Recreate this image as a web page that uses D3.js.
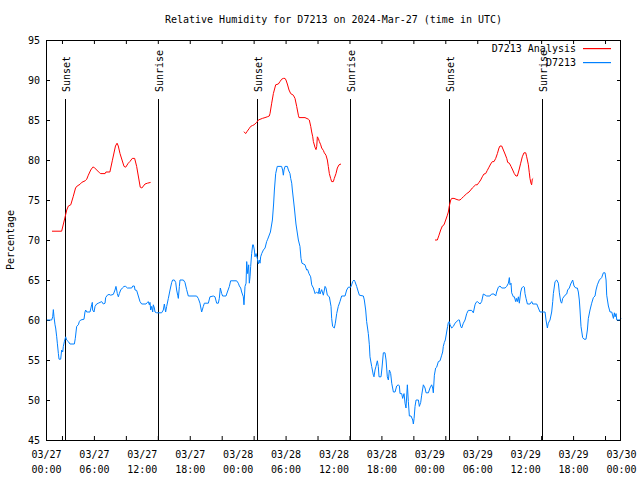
<!DOCTYPE html>
<html><head><meta charset="utf-8">
<script src="https://cdn.jsdelivr.net/npm/d3@7"></script>
<style>
html,body{margin:0;padding:0;background:#fff;}
svg text{font-family:"DejaVu Sans Mono",monospace;font-size:10px;fill:#000;}
</style></head>
<body><svg id="c" width="640" height="480"></svg>
<script>
// ---- data (hours since 2024-03-27 00:00 UTC, value %) ----
const titleText = "Relative Humidity for D7213 on 2024-Mar-27 (time in UTC)";
const yLabel = "Percentage";
const seriesNames = ["D7213 Analysis", "D7213"];
const seriesColors = ["#ff0000", "#0080ff"];
const yTicks = [45,50,55,60,65,70,75,80,85,90,95];
const xLabelHours = [0,6,12,18,24,30,36,42,48,54,60,66,72];
const sunHours = [2.42,14.05,26.43,38.1,50.47,62.1];
const sunNames = ["Sunset","Sunrise","Sunset","Sunrise","Sunset","Sunrise"];

const analysisSeg1 = [[0.75,71.1],[1.96,71.1],[2.3,72.5],[2.6,73.75],[2.8,74.25],[3.1,74.4],[3.4,75.4],[3.7,76.5],[3.9,76.75],[4.26,76.96],[4.47,77.2],[4.9,77.4],[5.1,77.6],[5.3,78.1],[5.6,78.75],[5.85,79.1],[6.0,79.1],[6.7,78.4],[6.85,78.3],[7.4,78.3],[7.5,78.5],[8.0,78.5],[8.3,79.9],[8.7,81.75],[8.9,82.1],[9.05,81.75],[9.27,80.8],[9.77,79.2],[9.98,79.1],[10.3,79.6],[10.5,79.8],[10.8,80.2],[11.1,80.2],[11.35,79.2],[11.8,76.6],[12.0,76.5],[12.4,77],[12.7,77.1],[13.1,77.2]];
const analysisSeg2 = [[24.79,83.54],[25.0,83.3],[25.2,83.6],[25.42,83.9],[25.63,84.2],[25.84,84.3],[26.05,84.4],[26.38,84.7],[26.59,85.0],[27.09,85.2],[27.42,85.3],[27.71,85.4],[27.96,85.5],[28.05,85.8],[28.26,87.1],[28.47,88.3],[28.76,89.4],[29.09,89.5],[29.3,89.8],[29.51,90.1],[29.72,90.2],[29.93,90.2],[30.05,90.0],[30.22,89.5],[30.43,88.75],[30.64,88.3],[30.97,88.1],[31.18,87.7],[31.39,86.7],[31.6,85.6],[31.68,85.3],[32.43,85.3],[32.85,85.1],[32.97,85.0],[33.15,84.2],[33.27,83.5],[33.4,82.9],[33.48,82.3],[33.68,81.6],[33.81,81.3],[33.9,81.7],[33.98,82.9],[34.1,82.7],[34.23,82.3],[34.4,81.9],[34.52,81.5],[34.73,81.2],[34.85,80.9],[35.06,80.6],[35.23,80.0],[35.35,79.2],[35.48,78.3],[35.64,77.7],[35.77,77.3],[35.98,77.3],[36.1,77.7],[36.31,78.3],[36.48,79.0],[36.69,79.4],[36.94,79.5]];
const analysisSeg3 = [[48.71,70.0],[49.0,70.0],[49.21,70.6],[49.42,71.25],[49.63,71.75],[49.84,71.9],[50.05,72.5],[50.26,73.1],[50.38,73.5],[50.5,74.25],[50.68,75.0],[50.8,75.2],[51.09,75.2],[51.34,75.1],[51.63,75.0],[51.84,75.0],[52.05,75.2],[52.26,75.4],[52.47,75.6],[52.68,75.8],[52.97,76.0],[53.18,76.25],[53.38,76.5],[53.59,76.7],[53.8,76.9],[54.0,76.9],[54.22,77.2],[54.43,77.5],[54.63,77.9],[54.84,78.25],[55.05,78.3],[55.26,78.7],[55.47,79.1],[55.68,79.5],[55.89,79.8],[56.1,79.8],[56.31,80.2],[56.52,80.8],[56.72,81.5],[56.85,81.75],[57.06,81.75],[57.27,81.25],[57.48,80.75],[57.69,80.2],[57.81,79.7],[58.02,79.6],[58.23,79.2],[58.44,78.75],[58.64,78.3],[58.85,78.0],[59.02,78.0],[59.23,78.75],[59.44,79.6],[59.64,80.4],[59.85,80.9],[60.07,80.9],[60.19,80.4],[60.4,79.4],[60.52,78.4],[60.6,77.7],[60.73,77.1],[60.81,76.9],[60.89,77.6],[61.0,77.7]];

const observed = [[0.08,60],[0.71,60],[0.84,60.4],[0.92,61.3],[1.0,60.4],[1.13,59.4],[1.21,59.0],[1.34,57.9],[1.42,57.1],[1.55,55.8],[1.63,55.1],[1.84,55.1],[1.96,56.25],[2.09,56.0],[2.17,56.7],[2.3,57.3],[2.46,57.9],[2.59,57.5],[2.8,57.3],[3.0,57.0],[3.55,57.0],[3.67,57.7],[3.76,58.5],[3.84,59.2],[4.05,59.4],[4.17,59.8],[4.34,60.0],[4.76,60.1],[4.88,61.0],[4.97,61.25],[5.09,61.0],[5.51,61.0],[5.72,61.9],[5.8,62.2],[5.84,61.25],[6.01,61.0],[6.14,61.7],[6.34,62.0],[6.55,62.1],[6.76,62.2],[6.97,62.3],[7.18,62.0],[7.39,62.1],[7.47,62.8],[7.68,63.1],[7.89,63.2],[8.1,63.1],[8.43,63.2],[8.64,63.75],[8.76,64.2],[8.85,63.75],[8.93,63.3],[9.06,62.9],[9.18,63.3],[9.35,63.75],[9.56,64.0],[9.77,64.2],[9.98,64.2],[10.19,64.0],[10.73,64.0],[10.86,64.25],[11.06,64.25],[11.15,63.75],[11.35,63.7],[11.56,63.0],[11.77,62.3],[11.98,62.0],[12.52,62.0],[12.69,62.2],[12.81,62.3],[12.94,61.9],[13.02,62.2],[13.11,61.25],[13.23,61.7],[13.36,61.0],[13.44,61.9],[13.57,61.5],[13.65,61.0],[13.86,60.9],[14.48,60.9],[14.69,61.25],[14.82,62.0],[14.98,61.0],[15.11,61.7],[15.32,62.7],[15.53,63.75],[15.74,64.7],[15.86,65.0],[16.07,65.0],[16.24,64.7],[16.36,63.75],[16.49,63.1],[16.57,62.7],[16.7,64.2],[16.78,65.0],[17.2,65.0],[17.4,64.7],[17.61,63.8],[17.82,63.0],[18.86,63.0],[19.07,62.7],[19.28,62.1],[19.49,61.0],[19.7,61.7],[19.83,62.1],[20.33,62.1],[20.53,62.9],[20.95,63.0],[21.16,62.9],[21.37,62.1],[21.58,62.1],[21.7,62.7],[21.83,64.0],[22.0,63.3],[22.12,63.0],[22.54,63.0],[22.71,63.5],[22.96,64.2],[23.12,64.9],[23.87,64.9],[24.08,64.6],[24.21,64.25],[24.38,64.0],[24.5,63.5],[24.71,62.9],[24.79,61.9],[24.92,64.2],[25.05,64.6],[25.13,67.3],[25.25,65.8],[25.38,66.9],[25.46,64.6],[25.55,65.4],[25.63,66.7],[25.75,68.3],[25.88,69.4],[25.96,69.4],[26.09,68.75],[26.17,67.9],[26.3,68.3],[26.46,67.7],[26.59,67.0],[26.71,67.5],[26.8,67.1],[26.88,67.9],[27.01,68.3],[27.22,68.75],[27.43,69.0],[27.63,69.8],[27.76,70.1],[28.1,71],[28.35,72.5],[28.5,74.5],[28.6,76.25],[28.76,78.3],[28.96,79.2],[29.5,79.2],[29.63,78.75],[29.72,78.1],[29.8,78.75],[29.93,79.2],[30.22,79.2],[30.35,78.75],[30.55,78.3],[30.64,77.7],[30.77,77.1],[30.85,76.25],[31.1,74],[31.3,72],[31.6,70],[31.8,69.2],[31.93,67.7],[32.05,67.1],[32.43,66.9],[32.64,66.25],[32.76,66.3],[32.93,65.8],[33.14,65.4],[33.27,64.4],[33.48,64.0],[33.69,63.3],[33.89,63.5],[34.1,63.3],[34.23,64.0],[34.31,63.25],[34.52,63.8],[34.73,63.1],[34.94,64.2],[35.06,64.0],[35.23,63.1],[35.48,62.9],[35.69,61.7],[35.77,60.2],[35.89,59.2],[36.1,59.0],[36.23,59.6],[36.4,60.8],[36.6,61.7],[36.81,62.3],[37.02,63.0],[37.44,63.0],[37.65,63.75],[37.86,64.1],[38.15,64.1],[38.27,64.4],[38.4,64.8],[38.57,65.0],[38.69,64.8],[38.9,64.2],[39.11,63.5],[39.24,63.1],[39.74,63.0],[39.86,62.5],[40.03,61.25],[40.15,59.8],[40.36,58.3],[40.49,56.9],[40.57,55.4],[40.78,54.2],[40.99,53.1],[41.07,52.9],[41.2,53.75],[41.32,54.2],[41.49,54.9],[41.61,54.2],[41.7,52.9],[41.95,52.9],[42.07,54.0],[42.24,55.9],[42.45,55.9],[42.58,55.0],[42.74,52.9],[42.87,52.5],[43.0,53.75],[43.16,53.3],[43.29,52.1],[43.5,51.0],[43.71,51.0],[43.91,51.75],[44.12,51.9],[44.25,51.75],[44.33,50.8],[44.54,50.8],[44.66,50.2],[44.83,50.8],[44.96,49.6],[45.08,49.0],[45.25,51.9],[45.37,49.8],[45.5,48.0],[45.71,48.0],[45.92,47.5],[46.0,47.0],[46.09,47.7],[46.21,49.2],[46.34,50.0],[46.63,50.0],[46.75,49.2],[46.92,49.7],[47.04,50.6],[47.25,51.9],[47.46,51.5],[47.59,50.9],[47.88,50.9],[48.08,51.5],[48.29,51.9],[48.42,51.5],[48.5,50.9],[48.63,53.1],[48.79,54.0],[48.92,54.1],[49.13,54.8],[49.34,54.9],[49.55,55.6],[49.67,56.0],[49.75,56.7],[49.88,57.2],[50.0,57.5],[50.17,58.5],[50.29,59.2],[50.38,59.7],[50.5,59.8],[50.59,59.4],[50.8,59.0],[51.01,59.2],[51.21,59.6],[51.63,60.0],[51.76,60.0],[51.93,59.2],[52.05,59.0],[52.26,59.6],[52.47,60.0],[52.68,60.8],[52.88,61.2],[53.3,61.2],[53.51,60.9],[53.72,61.9],[53.85,62.2],[54.01,62.3],[54.35,62.0],[54.55,62.3],[54.76,63.25],[55.18,63.0],[55.59,63.0],[55.8,63.25],[56.1,63.25],[56.31,63.0],[56.43,63.5],[56.64,64.1],[56.85,64.25],[57.06,64.0],[57.48,64.0],[57.69,64.2],[57.9,64.6],[58.02,65.3],[58.1,64.4],[58.23,64.6],[58.31,63.4],[58.52,62.9],[58.65,62.9],[58.73,62.6],[58.81,62.3],[58.9,62.7],[59.02,62.3],[59.15,62.9],[59.27,62.1],[59.44,63.5],[59.57,64.0],[59.77,64.2],[59.9,64.1],[59.98,63.3],[60.11,62.7],[60.28,62.0],[60.61,62.0],[60.82,62.3],[60.95,62.0],[61.45,62.0],[61.65,61.5],[61.86,61.0],[62.49,61.0],[62.61,60.0],[62.78,59.0],[62.9,59.6],[63.11,60.0],[63.32,61.0],[63.45,62.3],[63.53,63.3],[63.74,64.8],[63.95,65.0],[64.16,64.6],[64.28,63.4],[64.45,62.3],[64.57,62.1],[64.7,62.7],[64.99,63.1],[65.2,63.25],[65.32,63.75],[65.53,64.0],[65.7,64.5],[65.95,65.0],[66.12,64.25],[66.33,64.0],[66.53,64.0],[66.66,63.5],[66.78,62.5],[66.87,61.25],[66.99,59.2],[67.2,57.8],[67.37,57.6],[67.62,57.6],[67.79,58.75],[67.91,60.2],[68.12,61.25],[68.33,62.1],[68.54,62.8],[68.75,63.0],[68.87,63.75],[69.04,64.4],[69.29,65.0],[69.58,65.3],[69.79,65.9],[70.0,65.9],[70.13,65.0],[70.21,63.1],[70.42,61.75],[70.63,61.0],[70.84,61.0],[71.05,60.2],[71.17,60.9],[71.26,60.4],[71.38,60.8],[71.47,60.0],[71.88,60.0],[72.0,60.2]];

// ---- drawing ----
const t0 = Date.UTC(2024,2,27,0,0,0);
const toDate = h => new Date(t0 + h*3600000);
const svg = d3.select("#c");
const L=46, R=621, T=40, B=440;
const x = d3.scaleUtc().domain([toDate(0), toDate(72)]).range([L,R]);
const y = d3.scaleLinear().domain([45,95]).range([B,T]);

svg.append("rect").attr("width",640).attr("height",480).attr("fill","#fff");

// title
svg.append("text").attr("x",(L+R)/2).attr("y",23).attr("text-anchor","middle").text(titleText);
// y label
svg.append("text").attr("transform","translate(14,240) rotate(-90)").attr("text-anchor","middle").text(yLabel);

const minorHours = d3.range(2,72,4);
const fmt1 = d3.utcFormat("%m/%d"), fmt2 = d3.utcFormat("%H:%M");

function styleAxis(g){ g.select(".domain").remove(); g.selectAll("line").attr("stroke","#000"); g.selectAll("text").attr("font-family",null).attr("font-size",null); }

// bottom/top tick marks (inward)
svg.append("g").attr("transform",`translate(0,${B})`)
  .call(d3.axisBottom(x).tickValues(minorHours.map(toDate)).tickSize(-4).tickFormat(""))
  .call(styleAxis);
svg.append("g").attr("transform",`translate(0,${T})`)
  .call(d3.axisTop(x).tickValues(minorHours.map(toDate)).tickSize(-4).tickFormat(""))
  .call(styleAxis);
// bottom labels
const xl = svg.append("g").attr("transform",`translate(0,${B})`)
  .call(d3.axisBottom(x).tickValues(xLabelHours.map(toDate)).tickSize(0).tickPadding(0).tickFormat(""))
  .call(styleAxis);
xl.selectAll(".tick").each(function(d){
  const t = d3.select(this).append("text").attr("text-anchor","middle").attr("fill","#000");
  t.append("tspan").attr("x",0).attr("y",18).text(fmt1(d));
  t.append("tspan").attr("x",0).attr("y",33).text(fmt2(d));
});
// y axes
svg.append("g").attr("transform",`translate(${L},0)`)
  .call(d3.axisLeft(y).tickValues(yTicks).tickSize(-4).tickPadding(6).tickFormat(d3.format("d")))
  .call(styleAxis);
svg.append("g").attr("transform",`translate(${R},0)`)
  .call(d3.axisRight(y).tickValues(yTicks).tickSize(-4).tickFormat(""))
  .call(styleAxis);

// sunrise / sunset lines
sunHours.forEach((h,i)=>{
  const xx = Math.round(x(toDate(h)))+0.5;
  svg.append("line").attr("x1",xx).attr("x2",xx).attr("y1",99).attr("y2",B).attr("stroke","#000");
  svg.append("text").attr("transform",`translate(${xx+4.5},92) rotate(-90)`).text(sunNames[i]);
});

// lines
const line = d3.line().x(d=>x(toDate(d[0]))).y(d=>y(d[1]));
[analysisSeg1,analysisSeg2,analysisSeg3].forEach(seg=>{
  svg.append("path").attr("d",line(seg)).attr("fill","none").style("stroke",seriesColors[0]).attr("stroke-width",1);
});
svg.append("path").attr("d",line(observed)).attr("fill","none").style("stroke",seriesColors[1]).attr("stroke-width",1);

// border
svg.append("rect").attr("x",L+0.5).attr("y",T+0.5).attr("width",R-L-1).attr("height",B-T).attr("fill","none").attr("stroke","#000");

// legend
const legY=[48,62];
seriesNames.forEach((n,i)=>{
  svg.append("text").attr("x",576).attr("y",legY[i]+4).attr("text-anchor","end").text(n);
  svg.append("rect").attr("x",583).attr("y",legY[i]).attr("width",28).attr("height",1.2).style("fill",seriesColors[i]);
});
</script></body></html>
